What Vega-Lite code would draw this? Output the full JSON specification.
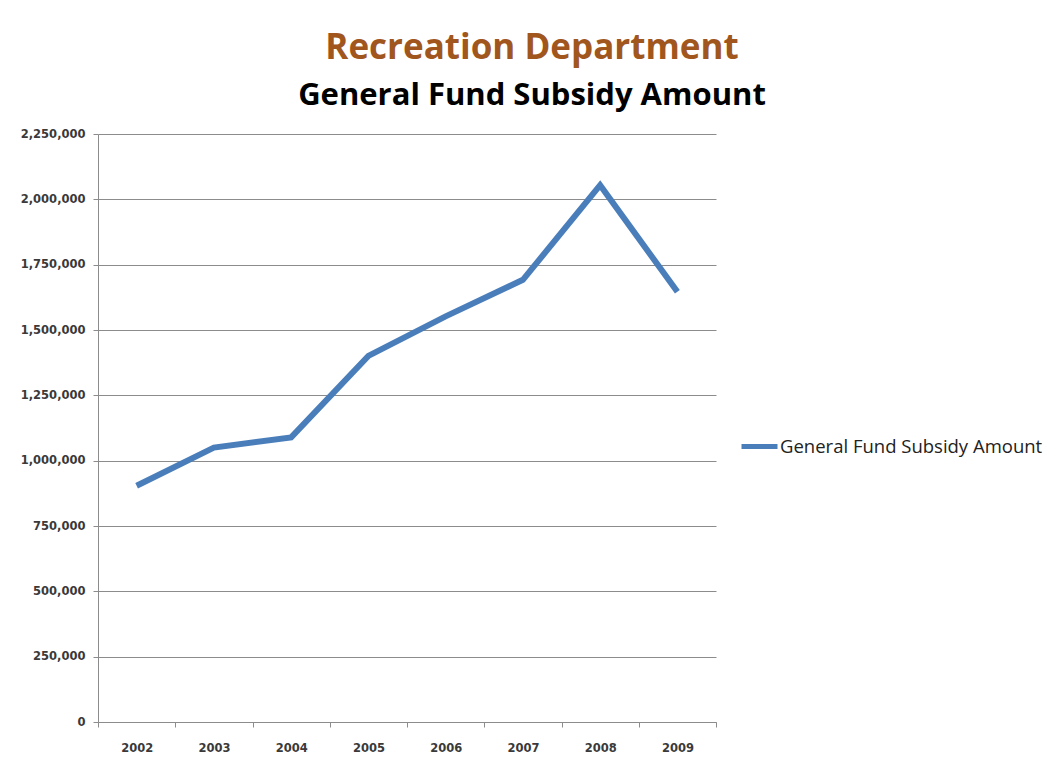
{
  "$schema": "https://vega.github.io/schema/vega-lite/v6.json",
  "width": 618,
  "height": 588,
  "autosize": {"type": "none"},
  "padding": {"left": 98, "top": 134, "right": 335, "bottom": 47},
  "background": "white",
  "title": {
    "text": "Recreation Department",
    "subtitle": "General Fund Subsidy Amount",
    "anchor": "middle",
    "frame": "group",
    "dx": 125,
    "offset": 17,
    "font": "Open Sans",
    "fontSize": 35,
    "fontWeight": "bold",
    "color": "#a0561c",
    "subtitleFont": "Open Sans",
    "subtitleFontSize": 31,
    "subtitleFontWeight": "bold",
    "subtitleColor": "#000000",
    "subtitlePadding": 15
  },
  "data": {
    "values": [
      {"year": "2002", "amount": 904000, "series": "General Fund Subsidy Amount"},
      {"year": "2003", "amount": 1050000, "series": "General Fund Subsidy Amount"},
      {"year": "2004", "amount": 1089000, "series": "General Fund Subsidy Amount"},
      {"year": "2005", "amount": 1401000, "series": "General Fund Subsidy Amount"},
      {"year": "2006", "amount": 1552000, "series": "General Fund Subsidy Amount"},
      {"year": "2007", "amount": 1692000, "series": "General Fund Subsidy Amount"},
      {"year": "2008", "amount": 2054000, "series": "General Fund Subsidy Amount"},
      {"year": "2009", "amount": 1646000, "series": "General Fund Subsidy Amount"}
    ]
  },
  "mark": {"type": "line", "strokeWidth": 6, "strokeCap": "butt", "strokeJoin": "miter"},
  "encoding": {
    "x": {
      "field": "year",
      "type": "ordinal",
      "bandPosition": 0.5,
      "scale": {"type": "band", "paddingInner": 0, "paddingOuter": 0},
      "axis": {
        "title": null,
        "labelAngle": 0,
        "tickBand": "extent",
        "grid": false,
        "domainColor": "#8c8c8c",
        "tickColor": "#8c8c8c",
        "tickSize": 5,
        "labelPadding": 15,
        "labelFont": "DejaVu Sans",
        "labelFontSize": 11.5,
        "labelFontWeight": "bold",
        "labelColor": "#3a3a3a"
      }
    },
    "y": {
      "field": "amount",
      "type": "quantitative",
      "scale": {"domain": [0, 2250000], "nice": false},
      "axis": {
        "title": null,
        "values": [0, 250000, 500000, 750000, 1000000, 1250000, 1500000, 1750000, 2000000, 2250000],
        "format": ",.0f",
        "grid": true,
        "gridColor": "#8c8c8c",
        "gridWidth": 1,
        "domainColor": "#8c8c8c",
        "tickColor": "#8c8c8c",
        "tickSize": 5,
        "labelPadding": 8,
        "labelFont": "DejaVu Sans",
        "labelFontSize": 11.5,
        "labelFontWeight": "bold",
        "labelColor": "#3a3a3a"
      }
    },
    "color": {
      "field": "series",
      "type": "nominal",
      "scale": {"range": ["#4a7ebb"]},
      "legend": {
        "title": null,
        "orient": "none",
        "legendX": 641,
        "legendY": 292,
        "symbolType": "stroke",
        "symbolStrokeWidth": 5,
        "symbolSize": 1296,
        "labelFont": "Open Sans",
        "labelFontSize": 18.5,
        "labelColor": "#222222",
        "labelOffset": 0,
        "labelLimit": 400
      }
    }
  },
  "config": {
    "view": {"stroke": null}
  }
}
